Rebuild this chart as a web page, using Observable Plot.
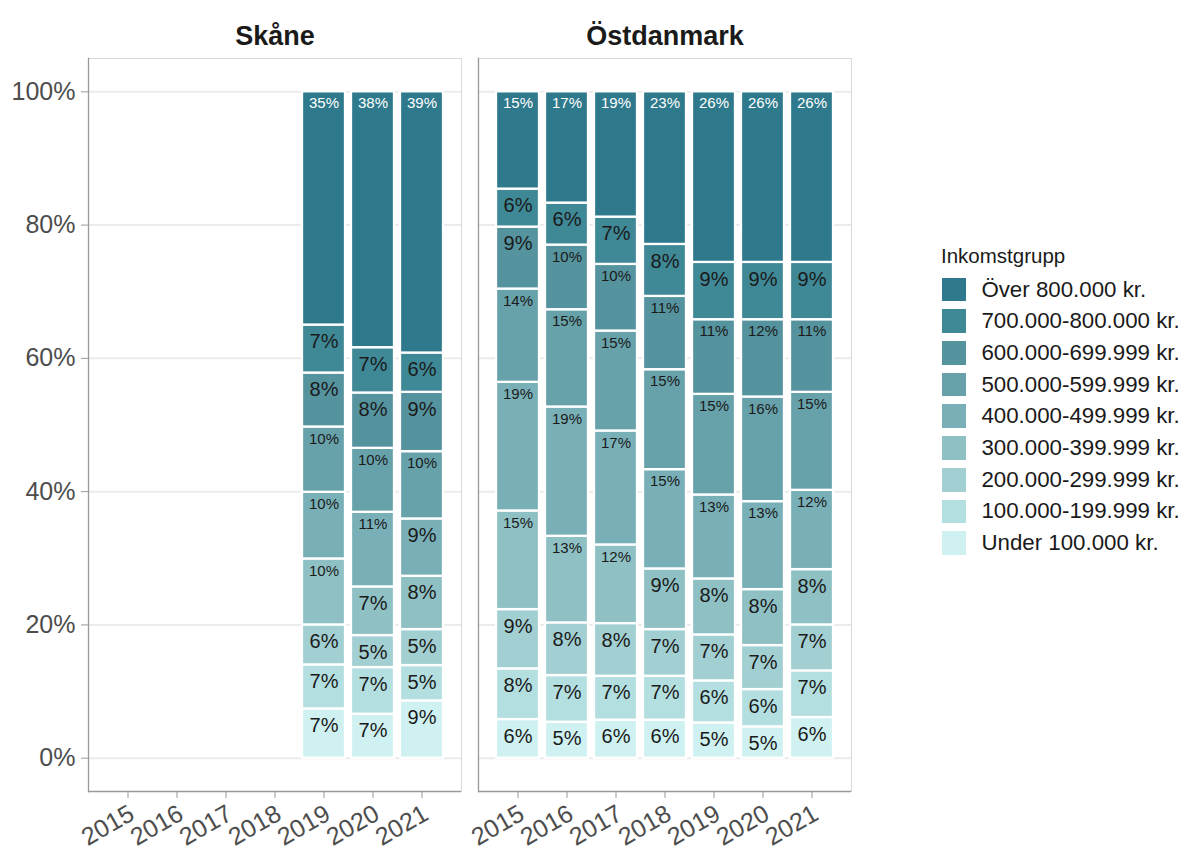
<!DOCTYPE html>
<html><head><meta charset="utf-8">
<script src="https://cdn.jsdelivr.net/npm/d3@7"></script>
<script src="https://cdn.jsdelivr.net/npm/@observablehq/plot@0.6"></script>
<style>
body{margin:0;background:#fff;font-family:"Liberation Sans",Arial,Helvetica,sans-serif;}
#wrap{position:relative;width:1186px;height:851px;overflow:hidden;}
#chart{position:absolute;left:0;top:0;}
#legend{position:absolute;left:941px;top:244px;color:#1a1a1a;}
#legend .ltitle{font-size:20.5px;line-height:23px;height:23px;margin-bottom:6.7px;}
#legend .item{display:flex;align-items:center;height:31.7px;}
#legend .sw{display:inline-block;width:25.7px;height:25.7px;margin-right:14.7px;box-sizing:border-box;border:1px solid #fff;}
#legend .lab{font-size:22.3px;white-space:nowrap;}
</style></head>
<body><div id="wrap"><div id="chart"></div><div id="legend"></div></div>
<script>
const regions = ["Skåne", "Östdanmark"];
const years = [2015, 2016, 2017, 2018, 2019, 2020, 2021];
const groups = ["Under 100.000 kr.", "100.000-199.999 kr.", "200.000-299.999 kr.", "300.000-399.999 kr.", "400.000-499.999 kr.", "500.000-599.999 kr.", "600.000-699.999 kr.", "700.000-800.000 kr.", "Över 800.000 kr."];
const groupColors = ["#cff1f1", "#b4dfe0", "#a2cfd1", "#8ec0c4", "#79b0b8", "#67a2ab", "#55939e", "#3f8896", "#2e7a8c"];
const yTicks = [0, 0.2, 0.4, 0.6, 0.8, 1];

const skaneYears = [2019, 2020, 2021];
const skaneValues = [
  [7.4, 6.6, 6.0, 9.9, 10.0, 9.8, 8.1, 7.2, 35.0],
  [6.6, 7.0, 4.8, 7.3, 11.2, 9.6, 8.3, 6.8, 38.4],
  [8.6, 5.3, 5.4, 8.0, 8.6, 10.1, 8.9, 5.9, 39.2]
];
const ostYears = [2015, 2016, 2017, 2018, 2019, 2020, 2021];
const ostValues = [
  [5.8, 7.6, 8.9, 14.8, 19.3, 14.0, 9.3, 5.7, 14.6],
  [5.4, 7.0, 7.9, 13.0, 19.4, 14.6, 9.7, 6.3, 16.7],
  [5.7, 6.6, 7.9, 11.8, 17.1, 15.0, 10.0, 7.1, 18.8],
  [5.7, 6.6, 7.0, 9.1, 14.9, 15.0, 11.0, 7.8, 22.9],
  [5.3, 6.3, 6.9, 8.4, 12.6, 15.1, 11.2, 8.6, 25.6],
  [4.7, 5.6, 6.6, 8.4, 13.2, 15.7, 11.6, 8.6, 25.6],
  [6.1, 7.0, 6.9, 8.3, 11.9, 14.7, 10.9, 8.6, 25.6]
];

const rows = [];
function addRows(region, yrs, vals) {
  yrs.forEach((y, i) => vals[i].forEach((v, j) => rows.push({region, year: y, group: groups[j], value: v, frac: v / 100})));
}
addRows("Skåne", skaneYears, skaneValues);
addRows("Östdanmark", ostYears, ostValues);

const topGroup = groups[groups.length - 1];
const fontFamily = '"Liberation Sans", Arial, Helvetica, sans-serif';
const labelOpts = {
  fx: "region", x: "year", y: "frac", z: "group", order: groups,
  text: d => Math.round(d.value) + "%",
  fill: d => d.group === topGroup ? "white" : "#1a1a1a",
  lineAnchor: "top"
};
const isSmall = d => Math.round(d.value) >= 10;

const chart = Plot.plot({
  width: 900, height: 851,
  marginLeft: 88, marginRight: 49, marginTop: 58, marginBottom: 60,
  style: {fontFamily, background: "white", overflow: "visible"},
  fx: {domain: regions, paddingInner: 17 / 390, paddingOuter: 0, label: null},
  x: {domain: years, paddingInner: 0.12, paddingOuter: 0.35, label: null},
  y: {domain: [-0.05, 1.05], label: null},
  color: {domain: groups, range: groupColors},
  marks: [
    Plot.ruleY(yTicks, {stroke: "#ebebeb", strokeWidth: 2}),
    Plot.frame({stroke: "#d9d9d9"}),
    Plot.barY(rows, Plot.stackY({fx: "region", x: "year", y: "frac", z: "group", order: groups, fill: "group", stroke: "white", strokeWidth: 2.3})),
    Plot.text(rows, Plot.filter(isSmall, Plot.stackY2({...labelOpts, fontSize: 15, dy: 6}))),
    Plot.text(rows, Plot.filter(d => !isSmall(d), Plot.stackY2({...labelOpts, fontSize: 20, dy: 9}))),
    Plot.axisY({ticks: yTicks, tickFormat: d => Math.round(d * 100) + "%", tickSize: 7, tickPadding: 6, fontSize: 25, fill: "#4d4d4d", stroke: "#999"}),
    Plot.axisX({tickSize: 7, fill: "none", stroke: "#999", tickFormat: d => String(d)}),
    Plot.axisX({tickRotate: -30, tickFormat: d => String(d), tickSize: 0, tickPadding: 20, dx: 4, fontSize: 25, fill: "#4d4d4d"}),
    Plot.axisFx({anchor: "top", tickSize: 0, tickPadding: 14, fontSize: 27, fontWeight: "bold", fill: "#1a1a1a"}),
    Plot.ruleY([-0.05], {stroke: "#999", strokeWidth: 1.3}),
    Plot.frame({anchor: "left", stroke: "#999", strokeWidth: 1.3})
  ]
});
document.getElementById("chart").appendChild(chart);

const colorScale = chart.scale("color");
const legend = document.getElementById("legend");
legend.innerHTML = '<div class="ltitle">Inkomstgrupp</div>' +
  groups.slice().reverse().map(g => `<div class="item"><span class="sw" style="background:${colorScale.apply(g)}"></span><span class="lab">${g}</span></div>`).join("");
</script>
</body></html>
